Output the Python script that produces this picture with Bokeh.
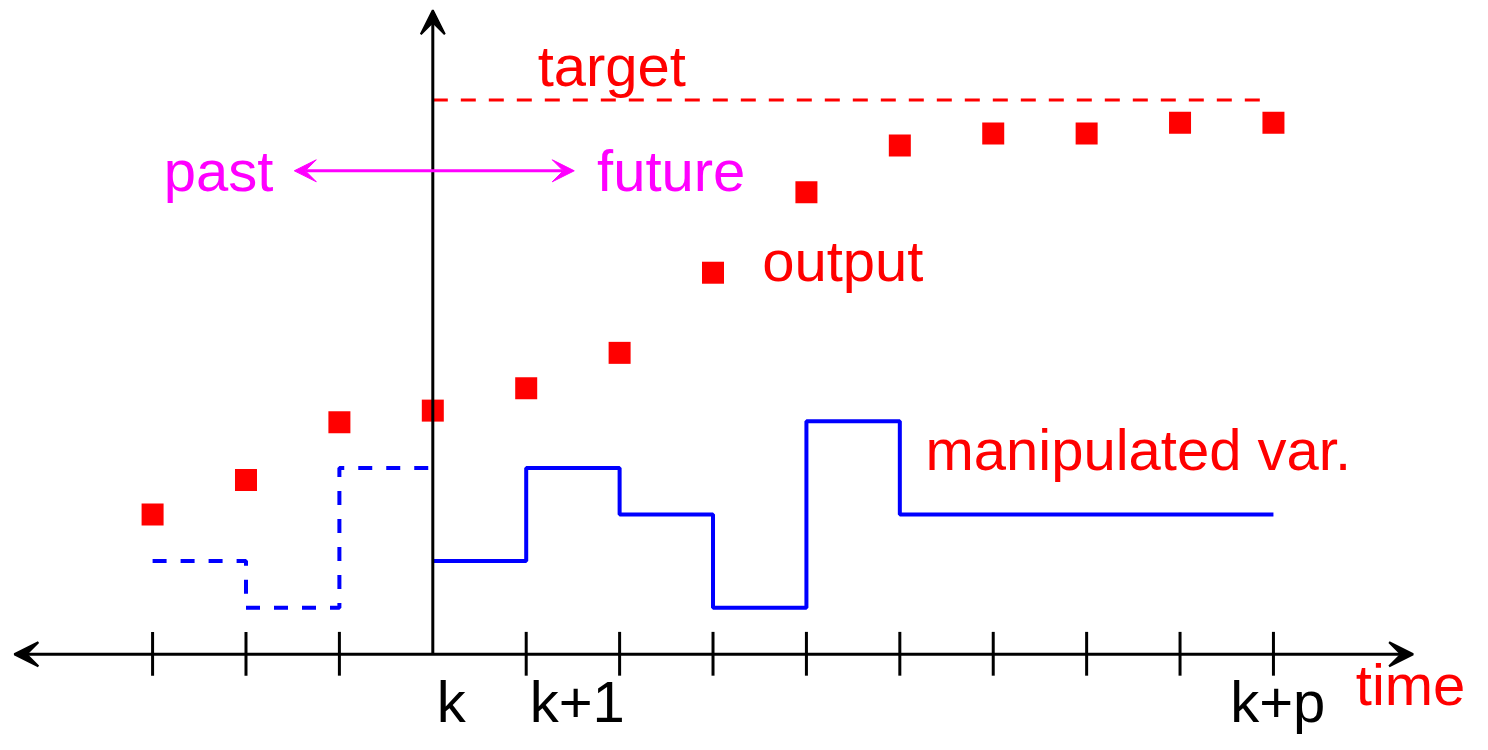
from bokeh.plotting import figure
from bokeh.models import Arrow, VeeHead, Range1d
from bokeh.core.properties import value
from bokeh.embed import file_html
from bokeh.resources import INLINE

# ---------------- data ----------------
steps = [-3, -2, -1, 0, 1, 2, 3, 4, 5, 6, 7, 8, 9]
output = [3.0, 3.74, 4.98, 5.23, 5.71, 6.47, 8.19, 9.92, 10.92, 11.18, 11.18, 11.41, 11.41]

past_mv_t = [-3, -2, -1, 0]
past_mv = [2, 1, 4, 4]

future_mv_t = [0, 1, 2, 3, 4, 5, 9]
future_mv = [2, 4, 3, 1, 5, 3, 3]

target_level = 11.9
target_span = [0, 8.9]

tick_steps = [-3, -2, -1, 1, 2, 3, 4, 5, 6, 7, 8, 9]
tick_labels = ["k", "k+1", "k+p"]

# ---------------- layout helpers (reference pixel -> data) ----------------
X0, DX = 437.0, 94.42   # reference pixel of step 0, pixels per step
Y0, DY = 668.0, 47.6    # reference pixel of level 0, pixels per level
BASE_FIX = 21.0         # baseline correction for svg text


def px(x):
    return (x - X0) / DX


def py(y):
    return (Y0 - y) / DY


def pyt(y):
    return py(y - BASE_FIX)


W, H = 1472, 734
p = figure(width=W, height=H, output_backend="svg", toolbar_location=None,
           x_axis_type=None, y_axis_type=None, min_border=0,
           x_range=Range1d(px(0), px(1488)), y_range=Range1d(py(750), py(0)))
p.grid.visible = False
p.outline_line_color = None
p.background_fill_color = "white"
p.border_fill_color = "white"

FONT = value("Liberation Sans")
FS = value("58px")
RED = "#ff0000"
BLUE = "#0000ff"
MAG = "#ff00ff"

# axes
p.add_layout(Arrow(start=VeeHead(size=24, fill_color="black", line_color="black", line_width=2),
                   end=VeeHead(size=24, fill_color="black", line_color="black", line_width=2),
                   x_start=px(14), y_start=0, x_end=px(1428), y_end=0,
                   line_color="black", line_width=3))
p.add_layout(Arrow(end=VeeHead(size=24, fill_color="black", line_color="black", line_width=2),
                   x_start=0, y_start=0, x_end=0, y_end=py(10),
                   line_color="black", line_width=3))

# ticks
p.segment(x0=tick_steps, y0=[0.48] * len(tick_steps), x1=tick_steps,
          y1=[-0.46] * len(tick_steps), line_color="black", line_width=3)

# tick labels
label_x = [px(441), px(535), px(1243)]
p.text(x=label_x, y=[pyt(737)] * 3, text=tick_labels, text_font=FONT, text_font_size=FS,
       text_color="black", text_baseline="alphabetic", text_align="left")

# target
p.line(x=target_span, y=[target_level, target_level], line_color=RED, line_width=3,
       line_dash="15 13")

# manipulated variable
p.step(x=past_mv_t, y=past_mv, mode="after", line_color=BLUE, line_width=4, line_dash="14 14")
p.step(x=future_mv_t, y=future_mv, mode="after", line_color=BLUE, line_width=4)

# output
p.scatter(x=steps, y=output, marker="square", size=22, fill_color=RED, line_color=None)

# past / future arrow
p.add_layout(Arrow(start=VeeHead(size=22, fill_color=MAG, line_color=MAG, line_width=1),
                   end=VeeHead(size=22, fill_color=MAG, line_color=MAG, line_width=1),
                   x_start=px(297), y_start=py(174), x_end=px(580), y_end=py(174),
                   line_color=MAG, line_width=3))

# texts
p.text(x=[px(165), px(603)], y=[pyt(195), pyt(195)], text=["past", "future"], text_font=FONT,
       text_font_size=FS, text_color=MAG, text_baseline="alphabetic", text_align="left")
p.text(x=[px(543), px(770), px(935), px(1370)], y=[pyt(87), pyt(287), pyt(480), pyt(720)],
       text=["target", "output", "manipulated var.", "time"], text_font=FONT,
       text_font_size=FS, text_color=RED, text_baseline="alphabetic", text_align="left")

open("out.html", "w").write(file_html(p, INLINE))
